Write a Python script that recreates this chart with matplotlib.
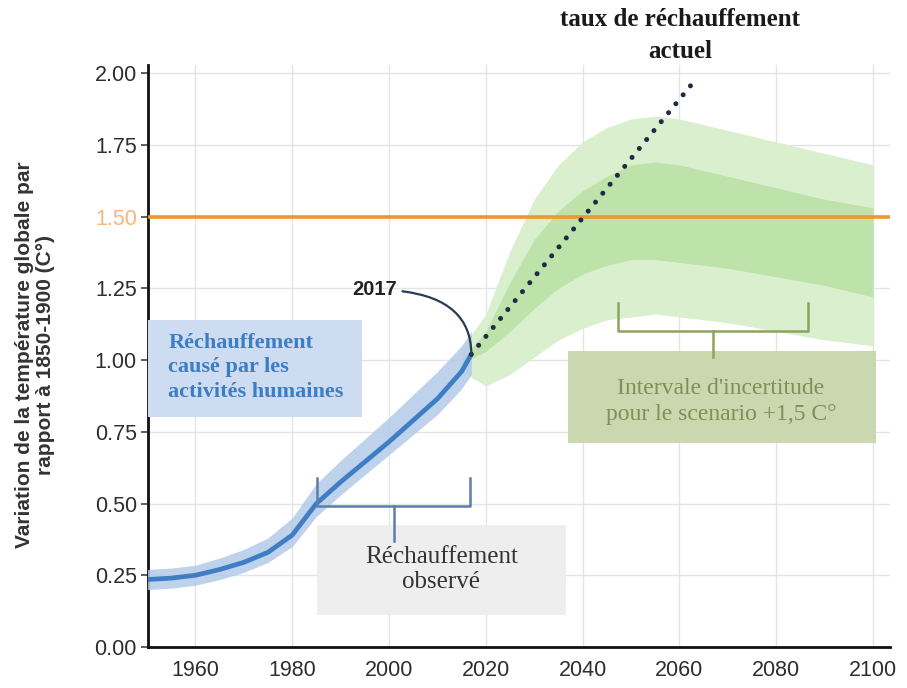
import numpy as np
import matplotlib.pyplot as plt

# observed warming (smoothed) with band
obs_years = [1950, 1955, 1960, 1965, 1970, 1975, 1980, 1985, 1990, 1995, 2000, 2005, 2010, 2015, 2017]
obs_mean = [0.235, 0.24, 0.25, 0.27, 0.295, 0.33, 0.39, 0.50, 0.575, 0.645, 0.715, 0.79, 0.865, 0.96, 1.02]
obs_low = [0.20, 0.205, 0.215, 0.235, 0.26, 0.295, 0.35, 0.455, 0.53, 0.60, 0.67, 0.74, 0.81, 0.90, 0.95]
obs_high = [0.27, 0.275, 0.285, 0.31, 0.34, 0.38, 0.45, 0.57, 0.65, 0.725, 0.80, 0.88, 0.96, 1.05, 1.10]

# +1.5 scenario uncertainty range
proj_years = [2015, 2020, 2025, 2030, 2035, 2040, 2045, 2050, 2055, 2060, 2070, 2080, 2090, 2100]
outer_hi = [1.04, 1.16, 1.38, 1.56, 1.68, 1.76, 1.81, 1.84, 1.85, 1.84, 1.80, 1.76, 1.72, 1.68]
mid_hi = [1.00, 1.10, 1.27, 1.42, 1.52, 1.59, 1.64, 1.68, 1.69, 1.68, 1.64, 1.60, 1.56, 1.53]
mid_lo = [0.99, 1.03, 1.10, 1.18, 1.25, 1.30, 1.33, 1.35, 1.35, 1.34, 1.32, 1.29, 1.26, 1.22]
outer_lo = [0.96, 0.91, 0.95, 1.01, 1.07, 1.11, 1.14, 1.15, 1.16, 1.15, 1.13, 1.10, 1.07, 1.05]

# current warming rate extrapolation
rate_years = [2017, 2062.5]
rate_vals = [1.02, 1.96]

target = 1.5
xticks = [1960, 1980, 2000, 2020, 2040, 2060, 2080, 2100]
yticks = [0.0, 0.25, 0.5, 0.75, 1.0, 1.25, 1.5, 1.75, 2.0]

sans = ['Liberation Sans', 'DejaVu Sans']
serif = ['Liberation Serif', 'DejaVu Serif']

fig = plt.figure(figsize=(9.07, 6.88), dpi=100)
ax = fig.add_axes([148/907, 1-647/688, 742/907, 582/688])
ax.set_xlim(1950.2, 2103.5)
ax.set_ylim(0, 2.028)

ax.set_xticks(xticks)
ax.set_yticks(yticks)
ax.set_yticklabels(['%.2f' % v for v in yticks])
ax.grid(True, color='#e4e4e4', lw=1)
ax.set_axisbelow(True)
for s in ['top', 'right']:
    ax.spines[s].set_visible(False)
for s in ['left', 'bottom']:
    ax.spines[s].set_linewidth(2)
    ax.spines[s].set_color('#111111')
ax.tick_params(axis='x', length=0, pad=9)
ax.tick_params(axis='y', length=5, width=1.2, color='#444444', pad=3)
for lab in ax.get_xticklabels() + ax.get_yticklabels():
    lab.set_fontfamily(sans)
    lab.set_fontsize(15.5)
    lab.set_color('#2e2e2e')
ax.get_yticklabels()[6].set_color('#f6b679')

# projection bands
ax.fill_between(proj_years, outer_lo, outer_hi, color='#daefcd', lw=0, zorder=2)
ax.fill_between(proj_years, mid_lo, mid_hi, color='#bde2aa', lw=0, zorder=2)

# observed
ax.fill_between(obs_years, obs_low, obs_high, color='#b3cbe8', alpha=0.85, lw=0, zorder=3)
ax.plot(obs_years, obs_mean, color='#3f7dc5', lw=3.4, solid_capstyle='butt', zorder=4)

ax.axhline(target, color='#f0962e', lw=2.6, zorder=5)

ax.plot(rate_years, rate_vals, color='#1f2b44', lw=3.6, dashes=(0.01, 2.3),
        dash_capstyle='round', zorder=6)

# 2017 callout
ax.annotate('2017', xy=(rate_years[0], rate_vals[0]), xytext=(1997, 1.245),
            fontsize=14.5, fontweight='bold', family=sans, color='#222222',
            ha='center', va='center',
            arrowprops=dict(arrowstyle='-', color='#2b3a55', lw=1.6,
                            connectionstyle='angle3,angleA=0,angleB=90',
                            shrinkA=2, shrinkB=0), zorder=7)

# boxes
ax.add_patch(plt.Rectangle((1950.2, 0.80), 44.3, 0.34, fc='#cddcf0', ec='none', zorder=6.5))
ax.text(1954.4, 0.975, 'Réchauffement\ncausé par les\nactivités humaines',
        fontsize=16, fontweight='bold', family=serif, color='#3b7ec6',
        ha='left', va='center', linespacing=1.3, zorder=7)

ax.add_patch(plt.Rectangle((1985.1, 0.11), 51.5, 0.315, fc='#eeeeee', ec='none', zorder=6.5))
ax.text(2010.8, 0.27, 'Réchauffement\nobservé', fontsize=18, family=serif,
        color='#333333', ha='center', va='center', linespacing=1.2, zorder=7)

ax.add_patch(plt.Rectangle((2036.9, 0.71), 63.7, 0.32, fc='#cbd7ae', ec='none', zorder=6.5))
ax.text(2068.6, 0.855, "Intervale d'incertitude\npour le scenario +1,5 C°", fontsize=17,
        family=serif, color='#7e8f59', ha='center', va='center', linespacing=1.3, zorder=7)

# braces
def brace(x0, x1, ytop, ymid, ystem, color):
    xm = (x0 + x1) / 2
    ax.plot([x0, x0, x1, x1], [ytop, ymid, ymid, ytop], color=color, lw=1.8, zorder=7,
            solid_joinstyle='round')
    ax.plot([xm, xm], [ymid, ystem], color=color, lw=1.8, zorder=7)

brace(1985.2, 2016.8, 0.59, 0.49, 0.37, '#5b7fa6')
brace(2047.3, 2086.6, 1.20, 1.10, 1.01, '#8ea35c')

fig.text(680/907, 1-35/688, 'taux de réchauffement\nactuel', fontsize=18, fontweight='bold',
         family=serif, color='#1a1a1a', ha='center', va='center', linespacing=1.5)

fig.text(35/907, 1-355/688, 'Variation de la température globale par\nrapport à 1850-1900 (C°)',
         rotation=90, fontsize=15, fontweight='bold', family=sans, color='#333333',
         ha='center', va='center', linespacing=1.15)

fig.savefig('out.png', dpi=100)
